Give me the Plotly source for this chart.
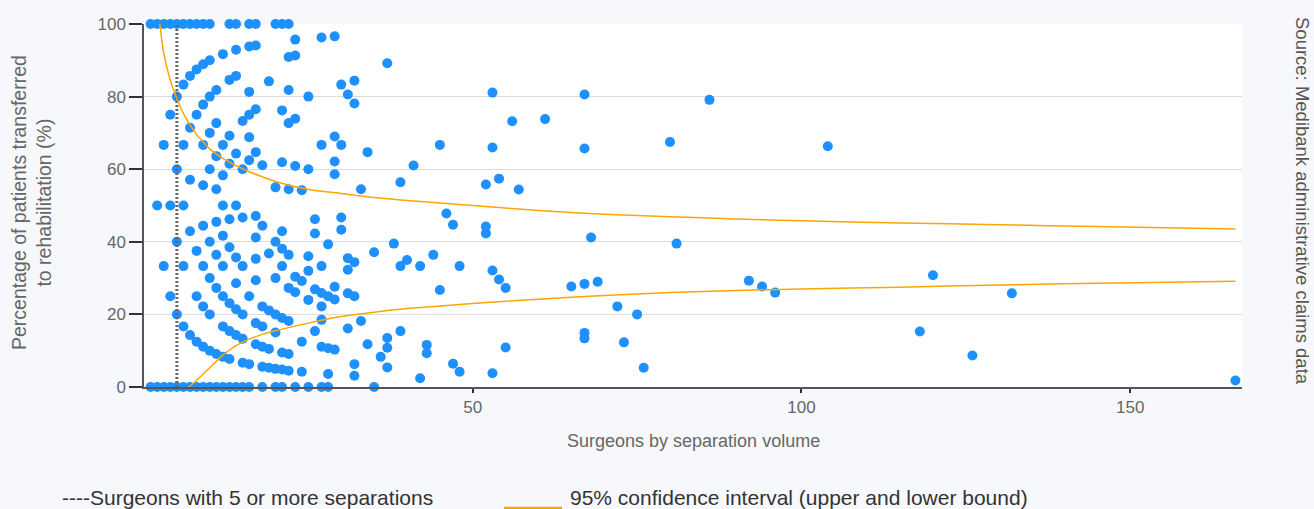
import plotly.graph_objects as go

# Separation volume per surgeon (x) and share of their patients transferred to rehabilitation (%)
volume = [
    1, 1,
    2, 2, 2,
    3, 3, 3, 3,
    4, 4, 4, 4, 4,
    5, 5, 5, 5, 5, 5,
    6, 6, 6, 6, 6, 6, 6,
    7, 7, 7, 7, 7, 7, 7,
    8, 8, 8, 8, 8, 8, 8,
    9, 9, 9, 9, 9, 9, 9, 9, 9, 9,
    10, 10, 10, 10, 10, 10, 10, 10, 10, 10,
    11, 11, 11, 11, 11, 11, 11, 11, 11,
    12, 12, 12, 12, 12, 12, 12, 12, 12, 12,
    13, 13, 13, 13, 13, 13, 13, 13, 13, 13,
    14, 14, 14, 14, 14, 14, 14, 14, 14, 14,
    15, 15, 15, 15, 15, 15, 15, 15,
    16, 16, 16, 16, 16, 16, 16, 16, 16,
    17, 17, 17, 17, 17, 17, 17, 17, 17, 17,
    18, 18, 18, 18, 18, 18, 18,
    19, 19, 19, 19, 19,
    20, 20, 20, 20, 20, 20, 20, 20,
    21, 21, 21, 21, 21, 21, 21, 21, 21, 21,
    22, 22, 22, 22, 22, 22, 22, 22, 22, 22,
    23, 23, 23, 23, 23, 23, 23,
    24, 24, 24, 24,
    25, 25, 25, 25, 25, 25,
    26, 26, 26, 26,
    27, 27, 27, 27, 27, 27, 27, 27,
    28, 28, 28, 28, 28,
    29, 29, 29, 29, 29, 29, 29,
    30, 30, 30, 30,
    31, 31, 31, 31, 31,
    32, 32, 32, 32, 32, 32,
    33, 33,
    34, 34,
    35, 35,
    36,
    37, 37, 37, 37,
    38,
    39, 39, 39,
    40,
    41,
    42, 42,
    43, 43,
    44,
    45, 45,
    46,
    47, 47,
    48, 48,
    52, 52, 52,
    53, 53, 53, 53,
    54, 54,
    55, 55,
    56,
    57,
    61,
    65,
    67, 67, 67, 67, 67,
    68,
    69,
    72,
    73,
    75,
    76,
    80,
    81,
    86,
    92,
    94,
    96,
    104,
    118,
    120,
    126,
    132,
    166,
]

transfer_pct = [
    100, 0,
    100, 50, 0,
    100, 66.7, 33.3, 0,
    100, 75, 50, 25, 0,
    100, 80, 60, 40, 20, 0,
    100, 83.3, 66.7, 50, 33.3, 16.7, 0,
    100, 85.7, 71.4, 57.1, 42.9, 14.3, 0,
    100, 87.5, 75, 37.5, 25, 12.5, 0,
    100, 88.9, 77.8, 66.7, 55.6, 44.4, 33.3, 22.2, 11.1, 0,
    100, 90, 80, 70, 60, 40, 30, 20, 10, 0,
    81.8, 72.7, 63.6, 54.5, 45.5, 36.4, 27.3, 9.1, 0,
    91.7, 66.7, 58.3, 50, 41.7, 33.3, 25, 16.7, 8.3, 0,
    100, 84.6, 69.2, 61.5, 46.2, 38.5, 23.1, 15.4, 7.7, 0,
    100, 92.9, 85.7, 64.3, 50, 35.7, 28.6, 21.4, 14.3, 0,
    73.3, 60, 46.7, 33.3, 20, 13.3, 6.7, 0,
    100, 93.8, 81.3, 75, 68.8, 62.5, 25, 6.3, 0,
    100, 94.1, 76.5, 64.7, 47.1, 41.2, 35.3, 29.4, 17.6, 11.8,
    61.1, 44.4, 22.2, 16.7, 11.1, 5.6, 0,
    84.2, 36.8, 21.1, 10.5, 5.3,
    100, 55, 40, 30, 20, 15, 5, 0,
    100, 76.2, 61.9, 42.9, 38.1, 33.3, 19, 9.5, 4.8, 0,
    100, 90.9, 81.8, 72.7, 54.5, 36.4, 27.3, 18.2, 9.1, 4.5,
    95.7, 91.3, 73.9, 60.9, 30.4, 26.1, 0,
    54.2, 29.2, 12.5, 4.2,
    80, 60, 36, 32, 24, 0,
    46.2, 42.3, 26.9, 15.4,
    96.3, 66.7, 33.3, 25.9, 22.2, 18.5, 11.1, 0,
    39.3, 25, 10.7, 3.6, 0,
    96.6, 69, 62.1, 58.6, 27.6, 24.1, 10.3,
    83.3, 66.7, 46.7, 43.3,
    80.6, 35.5, 32.3, 25.8, 16.1,
    84.4, 78.1, 34.4, 25, 6.3, 3.1,
    54.5, 18.2,
    64.7, 11.8,
    37.1, 0,
    8.3,
    89.2, 13.5, 10.8, 5.4,
    39.5,
    56.4, 33.3, 15.4,
    35,
    61,
    33.3, 2.4,
    11.6, 9.3,
    36.4,
    66.7, 26.7,
    47.8,
    44.7, 6.4,
    33.3, 4.2,
    55.8, 44.2, 42.3,
    81.1, 66, 32.1, 3.8,
    57.4, 29.6,
    27.3, 10.9,
    73.2,
    54.4,
    73.8,
    27.7,
    80.6, 65.7, 28.4, 14.9, 13.4,
    41.2,
    29,
    22.2,
    12.3,
    20,
    5.3,
    67.5,
    39.5,
    79.1,
    29.3,
    27.7,
    26,
    66.3,
    15.3,
    30.8,
    8.7,
    25.8,
    1.8,
]

assert len(volume) == len(transfer_pct)

# 95% confidence interval bounds (%) by separation volume
ci_upper_x = [2.4, 3, 4, 5, 6, 7, 8, 9, 10, 12, 14, 16, 18, 20, 25, 30, 35, 40,
              50, 60, 70, 80, 90, 100, 115, 130, 145, 166]
ci_upper = [100, 92, 84.5, 79.5, 75.3, 72.2, 69.6, 67.5, 65.6, 63, 61, 59.3, 57.9, 56.6,
            54.4, 53.3, 52.2, 51.4, 50, 48.6, 47.6, 46.9, 46.3, 45.8, 45.2, 44.7, 44.2, 43.5]
ci_lower_x = [6.8, 8, 9, 10, 12, 14, 16, 18, 20, 25, 30, 35, 40,
              50, 60, 70, 80, 90, 100, 115, 130, 145, 166]
ci_lower = [0, 1.8, 3.6, 5.3, 8.8, 11.4, 13.2, 14.5, 15.5, 17.6, 19.4, 20.6, 21.6,
            23, 24.2, 25.2, 26, 26.6, 27, 27.5, 28.1, 28.6, 29.1]

# Minimum-volume cut-off shown as a dotted reference line
min_volume = 5

x_ticks = [50, 100, 150]
y_ticks = [0, 20, 40, 60, 80, 100]

W, H = 1314, 509
M_L, M_R, M_T, M_B = 144, 72, 24, 122
PW, PH = W - M_L - M_R, H - M_T - M_B


def paper_x(px):
    return (px - M_L) / PW


def paper_y(py):
    return (H - M_B - py) / PH


BLUE = "#1E90FF"
ORANGE = "#FFA500"
FONT = "Liberation Sans, Arial, sans-serif"

fig = go.Figure()

fig.add_trace(go.Scatter(
    x=volume, y=transfer_pct, mode="markers",
    marker=dict(size=10, color=BLUE, line=dict(width=0)),
    cliponaxis=False, hoverinfo="x+y", showlegend=False,
))

fig.add_trace(go.Scatter(
    x=[min_volume, min_volume], y=[0, 100], mode="lines",
    line=dict(color="#666666", width=3, dash="2px,2px"),
    hoverinfo="skip", showlegend=False,
))

fig.add_trace(go.Scatter(
    x=ci_upper_x, y=ci_upper, mode="lines",
    line=dict(color=ORANGE, width=1.5, shape="spline", smoothing=0.6),
    hoverinfo="skip", showlegend=False,
))
fig.add_trace(go.Scatter(
    x=ci_lower_x, y=ci_lower, mode="lines",
    line=dict(color=ORANGE, width=1.5, shape="spline", smoothing=0.6),
    hoverinfo="skip", showlegend=False,
))

annotations = [
    dict(text="Percentage of patients transferred<br>to rehabilitation (%)",
         x=paper_x(31), y=paper_y(203), xref="paper", yref="paper",
         xanchor="center", yanchor="middle", textangle=-90, showarrow=False,
         font=dict(size=19.5, color="#666666", family=FONT)),
    dict(text="Surgeons by separation volume",
         x=paper_x(693), y=paper_y(441), xref="paper", yref="paper",
         xanchor="center", yanchor="middle", showarrow=False,
         font=dict(size=18, color="#666666", family=FONT)),
    dict(text="Source: Medibank administrative claims data",
         x=paper_x(1303), y=paper_y(201), xref="paper", yref="paper",
         xanchor="center", yanchor="middle", textangle=90, showarrow=False,
         font=dict(size=18.5, color="#555555", family=FONT)),
    dict(text="----Surgeons with 5 or more separations",
         x=paper_x(60), y=paper_y(497), xref="paper", yref="paper",
         xanchor="left", yanchor="middle", showarrow=False,
         font=dict(size=21, color="#333333", family=FONT)),
    dict(text="95% confidence interval (upper and lower bound)",
         x=paper_x(568), y=paper_y(497), xref="paper", yref="paper",
         xanchor="left", yanchor="middle", showarrow=False,
         font=dict(size=21, color="#333333", family=FONT)),
]

shapes = [
    dict(type="line", xref="paper", yref="paper",
         x0=paper_x(504), x1=paper_x(562), y0=paper_y(508), y1=paper_y(508),
         line=dict(color=ORANGE, width=2.5)),
]

fig.update_layout(
    width=W, height=H,
    margin=dict(l=M_L, r=M_R, t=M_T, b=M_B, pad=0),
    paper_bgcolor="#F7F8FC",
    plot_bgcolor="#FFFFFF",
    font=dict(family=FONT, color="#666666"),
    annotations=annotations,
    shapes=shapes,
    showlegend=False,
    xaxis=dict(
        range=[0, 167], tickvals=x_ticks, ticks="outside", ticklen=4,
        tickwidth=1.5, tickcolor="#333333",
        showgrid=False, zeroline=False,
        showline=True, linecolor="#555555", linewidth=2,
        tickfont=dict(size=17, color="#666666", family=FONT),
    ),
    yaxis=dict(
        range=[0, 100], tickvals=y_ticks, ticks="outside", ticklen=13,
        tickwidth=1.5, tickcolor="#333333",
        showgrid=True, gridcolor="#DCDCDC", gridwidth=1, zeroline=False,
        showline=True, linecolor="#555555", linewidth=1.5,
        tickfont=dict(size=17, color="#666666", family=FONT),
    ),
)

fig.write_html("out.html")
